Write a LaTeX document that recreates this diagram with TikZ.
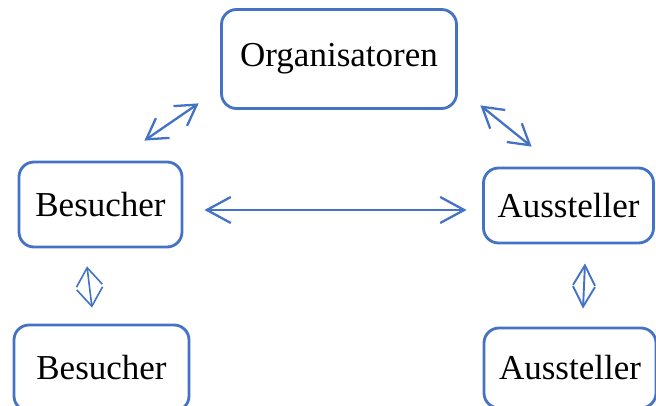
\documentclass[tikz,border=0pt]{standalone}
\usepackage{fontspec}
\setmainfont{Liberation Serif}
\usetikzlibrary{arrows.meta}
\definecolor{officeblue}{RGB}{68,114,196}

\begin{document}
\begin{tikzpicture}[x=1pt, y=1pt,
    box/.style = {draw=officeblue, line width=2.8pt, rounded corners=15pt,
                  fill=white, font=\fontsize{35}{42}\selectfont},
    link/.style = {officeblue, line width=2.3pt, line cap=round, line join=round,
                   {Straight Barb[length=20pt, width=24pt]}-{Straight Barb[length=20pt, width=24pt]}}]
    \useasboundingbox (0,0) rectangle (656,405);
    % the five parties
    \node[box, minimum width=235pt, minimum height=99pt] (org) at (339,346) {Organisatoren};
    \node[box, minimum width=163pt, minimum height=85pt] (bes1) at (100.5,200.5) {Besucher};
    \node[box, minimum width=170pt, minimum height=75pt] (aus1) at (568.5,199.5) {Aussteller};
    \node[box, minimum width=175pt, minimum height=86pt] (bes2) at (101.5,37) {Besucher};
    \node[box, minimum width=172pt, minimum height=80pt] (aus2) at (570,37) {Aussteller};
    % connections (ends kept clear of the boxes)
    \draw[link] ([shift={(-39,20)}]bes1.north east) -- ([shift={(-21.5,6.5)}]org.south west);
    \draw[link] ([shift={(22.5,4.5)}]org.south east) -- ([shift={(49.5,20)}]aus1.north west);
    \draw[link, {Straight Barb[length=24pt, width=26pt]}-{Straight Barb[length=24pt, width=26pt]}]
        ([shift={(21,-5.5)}]bes1.east) -- ([shift={(-15.5,-4.5)}]aus1.west);
    \draw[link, line width=1.6pt, {Straight Barb[length=18pt, width=26pt]}-{Straight Barb[length=18pt, width=26pt]}]
        ([shift={(-13.5,-18)}]bes1.south) -- ([shift={(-9.5,16)}]bes2.north);
    \draw[link, line width=1.9pt, {Straight Barb[length=20pt, width=22pt]}-{Straight Barb[length=20pt, width=22pt]}]
        ([shift={(16.5,-19)}]aus1.south) -- ([shift={(13,18)}]aus2.north);
\end{tikzpicture}
\end{document}
